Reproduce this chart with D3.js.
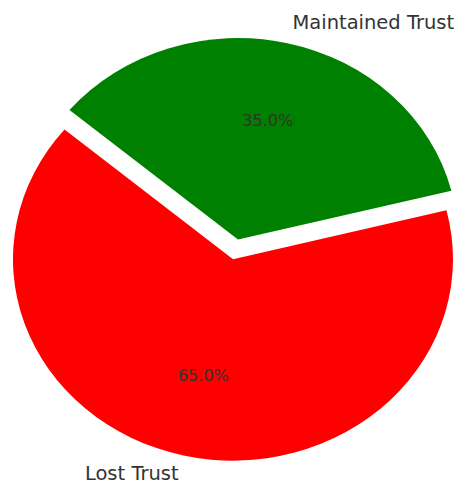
<!DOCTYPE html>
<html>
<head>
<meta charset="utf-8">
<script src="https://cdn.jsdelivr.net/npm/d3@7"></script>
<style>
  html, body { margin: 0; padding: 0; background: #fff; }
  svg { display: block; }
  text { font-family: "DejaVu Sans", sans-serif; fill: #333333; }
</style>
</head>
<body>
<svg id="chart" width="460" height="484"></svg>
<script>
const labels = ["Lost Trust", "Maintained Trust"];
const values = [65, 35];
const colors = ["#ff0000", "#008000"];
const explode = [0.1, 0];
const startAngleDeg = 140; // matplotlib convention, counter-clockwise from 3 o'clock

const W = 460, H = 484;
const cx = 238, cy = 239.5, rx = 220, ry = 201.5;

const svg = d3.select("#chart");

// data coordinates -> pixels
const x = d3.scaleLinear().domain([-1, 1]).range([cx - rx, cx + rx]);
const y = d3.scaleLinear().domain([-1, 1]).range([cy + ry, cy - ry]);

const toRad = d => d * Math.PI / 180;
const d3Start = toRad(90 - startAngleDeg);
const pie = d3.pie().sort(null).value(d => d.value)
  .startAngle(d3Start).endAngle(d3Start - 2 * Math.PI);

const data = labels.map((l, i) => ({ label: l, value: values[i], color: colors[i], explode: explode[i] }));
const arcs = pie(data);

const arcUnit = d3.arc().innerRadius(0).outerRadius(1);
const total = d3.sum(values);

// position at radius r along mid-angle (in data coords)
function at(a, r) {
  const mid = (a.startAngle + a.endAngle) / 2;
  return [r * Math.sin(mid), r * Math.cos(mid)];
}

const g = svg.append("g");
arcs.forEach(a => {
  const off = at(a, a.data.explode);
  const ox = x(off[0]), oy = y(off[1]);
  g.append("path")
    .attr("d", arcUnit(a))
    .attr("fill", a.data.color)
    .attr("transform", `translate(${ox},${oy}) scale(${rx},${ry})`);

  // outer label
  const lp = at(a, 1.1);
  const lx = x(off[0] + lp[0]), ly = y(off[1] + lp[1]);
  const fs = 19.5;
  g.append("text")
    .attr("x", lx)
    .attr("y", ly + 0.265 * fs)
    .attr("text-anchor", lp[0] > 0 ? "start" : "end")
    .attr("font-size", fs)
    .text(a.data.label);

  // percent label
  const pp = at(a, 0.6);
  const px = x(off[0] + pp[0]), py = y(off[1] + pp[1]);
  const fs2 = 16;
  g.append("text")
    .attr("x", px)
    .attr("y", py + 0.265 * fs2)
    .attr("text-anchor", "middle")
    .attr("font-size", fs2)
    .text((a.data.value / total * 100).toFixed(1) + "%");
});
</script>
</body>
</html>
